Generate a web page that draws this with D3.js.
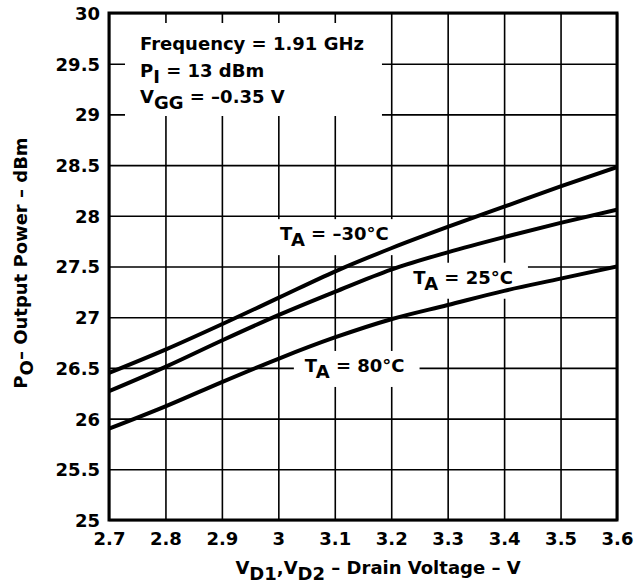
<!DOCTYPE html>
<html>
<head>
<meta charset="utf-8">
<script src="https://cdn.jsdelivr.net/npm/d3@7"></script>
<style>
body { margin: 0; background: #fff; }
text { font-family: "DejaVu Sans", sans-serif; font-weight: bold; font-size: 18px; fill: #000; }
</style>
</head>
<body>
<div id="chart"></div>
<script>
// values
var voltage  = [2.7, 2.8, 2.9, 3.0, 3.1, 3.2, 3.3, 3.4, 3.5, 3.6];
var powerM30 = [26.45, 26.68, 26.93, 27.19, 27.45, 27.68, 27.89, 28.09, 28.29, 28.48];
var power25  = [26.27, 26.51, 26.77, 27.02, 27.25, 27.47, 27.64, 27.79, 27.93, 28.06];
var power80  = [25.90, 26.12, 26.36, 26.59, 26.80, 26.98, 27.12, 27.26, 27.38, 27.50];

var xTicks = [2.7, 2.8, 2.9, 3.0, 3.1, 3.2, 3.3, 3.4, 3.5, 3.6];
var yTicks = [25, 25.5, 26, 26.5, 27, 27.5, 28, 28.5, 29, 29.5, 30];

// odd entries are subscripts
var seriesLabels = [
	["T", "A", " = \u201330\u00b0C"],
	["T", "A", " = 25\u00b0C"],
	["T", "A", " = 80\u00b0C"]
];
var notes = [
	["Frequency = 1.91 GHz"],
	["P", "I", " = 13 dBm"],
	["V", "GG", " = \u20130.35 V"]
];
var xTitle = ["V", "D1", ",V", "D2", " \u2013 Drain Voltage \u2013 V"];
var yTitle = ["P", "O", "\u2013 Output Power \u2013 dBm"];

var w = 642,
	h = 584;
var margin = { top: 13, right: 25, bottom: 64, left: 109 };
var iw = w - margin.left - margin.right;
var ih = h - margin.top - margin.bottom;

var svg = d3.select("#chart").append("svg")
	.attr("width", w)
	.attr("height", h);
svg.append("rect").attr("width", w).attr("height", h).attr("fill", "#fff");

var g = svg.append("g")
	.attr("transform", `translate(${margin.left},${margin.top})`);

var x = d3.scaleLinear().domain([2.7, 3.6]).range([0, iw]);
var y = d3.scaleLinear().domain([25, 30]).range([ih, 0]);

function writeParts(sel, parts) {
	parts.forEach(function(p, i) {
		var sub = i % 2 == 1;
		var prevSub = i > 0 && (i - 1) % 2 == 1;
		sel.append("tspan")
			.attr("dy", sub ? 6 : (prevSub ? -6 : 0))
			.text(p);
	});
}

// grid + tick labels
var gx = g.append("g")
	.attr("transform", `translate(0,${ih})`)
	.call(d3.axisBottom(x).tickValues(xTicks).tickSize(-ih).tickFormat(d3.format("")));
gx.select(".domain").remove();
gx.selectAll("line").attr("stroke", "#000").attr("stroke-width", 1.6);
gx.selectAll("text").attr("y", 25).attr("dy", null);

var gy = g.append("g")
	.call(d3.axisLeft(y).tickValues(yTicks).tickSize(-iw).tickPadding(9).tickFormat(d3.format("")));
gy.select(".domain").remove();
gy.selectAll("line").attr("stroke", "#000").attr("stroke-width", 1.6);
gy.selectAll("text").attr("dy", "0.36em");

// boxes that blank the grid behind the text
var boxLayer = g.append("g");
var curveLayer = g.append("g");
var textLayer = g.append("g");

// annotation block
var noteText = textLayer.append("g");
notes.forEach(function(n, i) {
	var t = noteText.append("text")
		.attr("x", 31)
		.attr("y", 37 + i * 26.5);
	writeParts(t, n);
});
var nb = noteText.node().getBBox();
boxLayer.append("rect")
	.attr("x", nb.x - 15).attr("y", nb.y - 10)
	.attr("width", nb.width + 33).attr("height", nb.height + 13)
	.attr("fill", "#fff");

// series curves
var series = [powerM30, power25, power80];
var labelPos = [[3.003, 27.76], [3.239, 27.33], [3.047, 26.46]];

g.append("clipPath").attr("id", "clip")
	.append("rect").attr("width", iw).attr("height", ih);

var line = d3.line()
	.x(function(d, i) { return x(voltage[i]); })
	.y(function(d) { return y(d); })
	.curve(d3.curveMonotoneX);

curveLayer.attr("clip-path", "url(#clip)")
	.selectAll("path").data(series).enter().append("path")
	.attr("d", line)
	.attr("fill", "none")
	.attr("stroke", "#000")
	.attr("stroke-width", 4);

seriesLabels.forEach(function(lab, i) {
	var t = textLayer.append("text")
		.attr("x", x(labelPos[i][0]))
		.attr("y", y(labelPos[i][1]));
	writeParts(t, lab);
	var b = t.node().getBBox();
	boxLayer.append("rect")
		.attr("x", b.x - 11).attr("y", b.y - 4)
		.attr("width", b.width + 26).attr("height", b.height + 9)
		.attr("fill", "#fff");
});

// frame
g.append("rect")
	.attr("width", iw).attr("height", ih)
	.attr("fill", "none")
	.attr("stroke", "#000")
	.attr("stroke-width", 3);

// axis titles
var xt = svg.append("text")
	.attr("x", 378)
	.attr("y", 574)
	.attr("text-anchor", "middle");
writeParts(xt, xTitle);

var yt = svg.append("text")
	.attr("transform", "translate(27,263) rotate(-90)")
	.attr("text-anchor", "middle");
writeParts(yt, yTitle);
</script>
</body>
</html>
